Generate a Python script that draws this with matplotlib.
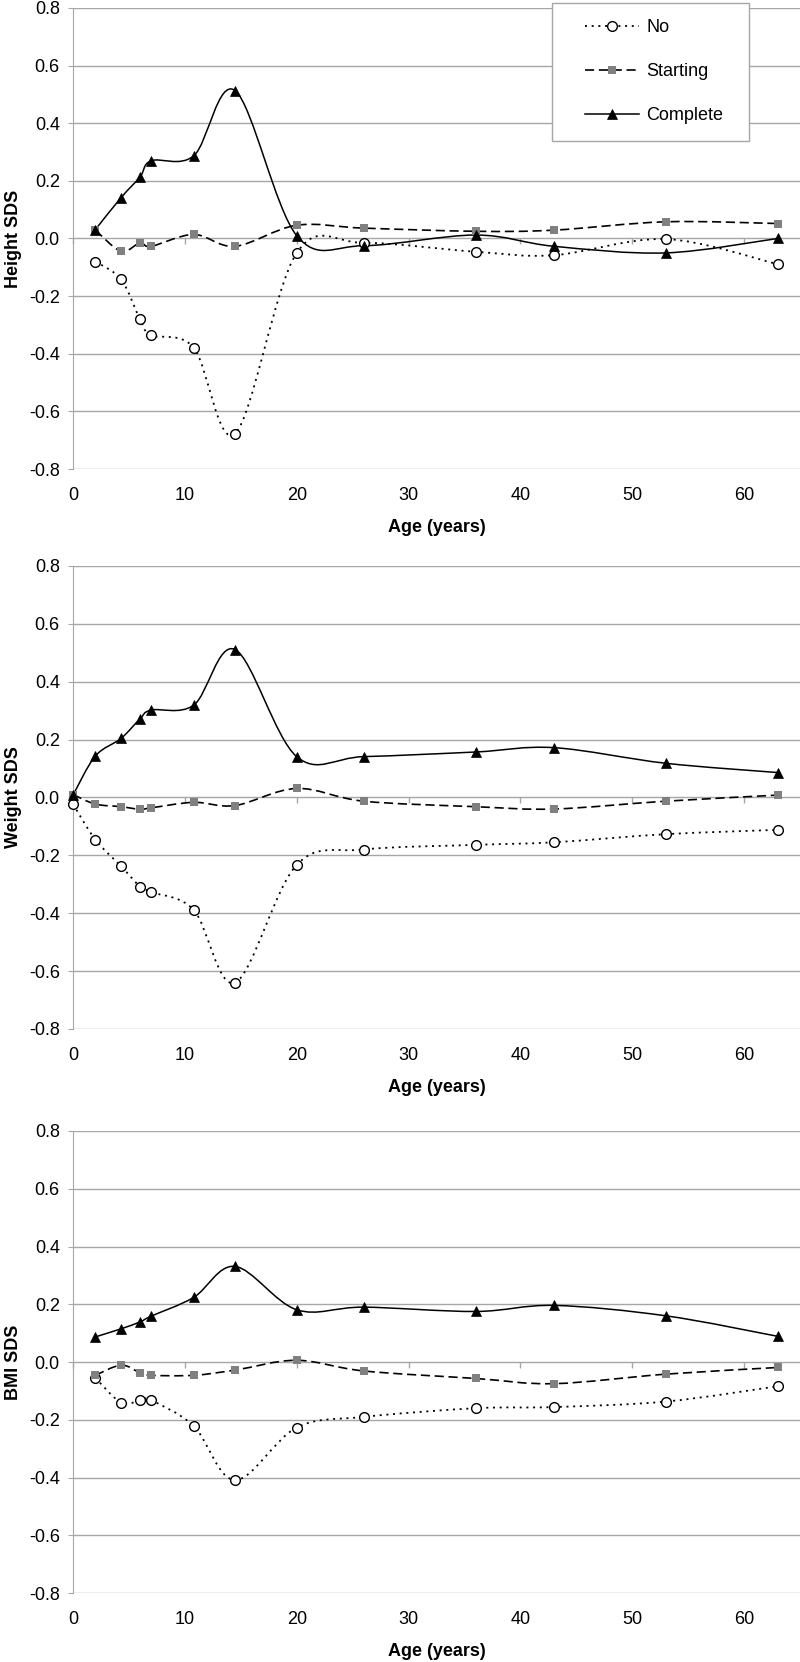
import numpy as np
import matplotlib
matplotlib.use("Agg")
import matplotlib.pyplot as plt
from matplotlib.path import Path
from matplotlib.patches import PathPatch, Rectangle
from matplotlib.lines import Line2D

plt.rcParams['font.family'] = ['Liberation Sans', 'DejaVu Sans']
plt.rcParams['axes.unicode_minus'] = False

# ages of the follow-up visits
ages = [2, 4.3, 6, 7, 10.8, 14.5, 20, 26, 36, 43, 53, 63]
ages_weight = [0, 2, 4.3, 6, 7, 10.8, 14.5, 20, 26, 36, 43, 53, 63]

height_no = [-0.080, -0.142, -0.281, -0.335, -0.379, -0.677, -0.050, -0.015, -0.046, -0.058, -0.002, -0.089]
height_starting = [0.029, -0.044, -0.015, -0.027, 0.014, -0.027, 0.046, 0.036, 0.025, 0.029, 0.058, 0.052]
height_complete = [0.031, 0.142, 0.214, 0.270, 0.287, 0.513, 0.010, -0.025, 0.012, -0.027, -0.050, 0.000]

weight_no = [-0.023, -0.146, -0.238, -0.308, -0.327, -0.389, -0.640, -0.233, -0.180, -0.164, -0.155, -0.127, -0.112]
weight_starting = [0.010, -0.023, -0.032, -0.041, -0.036, -0.017, -0.028, 0.031, -0.013, -0.032, -0.040, -0.013, 0.008]
weight_complete = [0.008, 0.143, 0.204, 0.272, 0.302, 0.319, 0.511, 0.141, 0.141, 0.157, 0.172, 0.118, 0.086]

bmi_no = [-0.055, -0.141, -0.133, -0.133, -0.222, -0.409, -0.227, -0.190, -0.160, -0.156, -0.137, -0.084]
bmi_starting = [-0.046, -0.011, -0.037, -0.046, -0.046, -0.028, 0.006, -0.031, -0.057, -0.075, -0.042, -0.019]
bmi_complete = [0.087, 0.115, 0.139, 0.159, 0.224, 0.331, 0.181, 0.190, 0.175, 0.196, 0.160, 0.089]

y_ticks = [-0.8, -0.6, -0.4, -0.2, 0.0, 0.2, 0.4, 0.6, 0.8]
x_ticks = [0, 10, 20, 30, 40, 50, 60]
series_names = ['No', 'Starting', 'Complete']

grey = '#a6a6a6'
fs = 13
styles = [
    dict(ls=(0, (1.1, 2.6)), lw=1.3, marker='o', ms=7, mfc='white', mec='black', mew=1.0),
    dict(ls=(0, (5.5, 2.8)), lw=1.2, marker='s', ms=5.5, mfc='#808080', mec='#808080', mew=0),
    dict(ls='-', lw=1.1, marker='^', ms=7, mfc='black', mec='black', mew=0.5),
]


def smooth_path(x, y):
    # excel style smoothed line: bezier segments through the points
    pts = np.column_stack([x, y]).astype(float)
    n = len(pts)
    verts = [pts[0]]
    codes = [Path.MOVETO]
    for i in range(n - 1):
        p0 = pts[i - 1] if i > 0 else pts[i]
        p1 = pts[i]
        p2 = pts[i + 1]
        p3 = pts[i + 2] if i + 2 < n else pts[i + 1]
        verts += [p1 + (p2 - p0) / 6, p2 - (p3 - p1) / 6, p2]
        codes += [Path.CURVE4] * 3
    return Path(verts, codes)


fig = plt.figure(figsize=(8, 16.62), dpi=100)
rects = [
    [0.09125, 0.7178, 0.90875, 0.2774],
    [0.09125, 0.3809, 0.90875, 0.2786],
    [0.09125, 0.0415, 0.90875, 0.2780],
]
panels = [
    ('Height SDS', ages, [height_no, height_starting, height_complete]),
    ('Weight SDS', ages_weight, [weight_no, weight_starting, weight_complete]),
    ('BMI SDS', ages, [bmi_no, bmi_starting, bmi_complete]),
]

for rect, (ylab, xs, series) in zip(rects, panels):
    ax = fig.add_axes(rect)
    ax.set_xlim(0, 65)
    ax.set_ylim(-0.8, 0.8)
    ax.set_yticks(y_ticks)
    ax.set_yticklabels(['%.1f' % v for v in y_ticks])
    ax.set_xticks(x_ticks)
    ax.yaxis.grid(True, color=grey, lw=1.0)
    ax.set_axisbelow(True)
    for s in ['top', 'right', 'bottom']:
        ax.spines[s].set_visible(False)
    ax.spines['left'].set_color(grey)
    ax.tick_params(axis='y', direction='out', length=3.5, color=grey, pad=6, labelsize=fs)
    ax.tick_params(axis='x', length=0, pad=13, labelsize=fs)
    # small tick marks on the zero line
    ax.plot(x_ticks, [0] * len(x_ticks), ls='none', marker=3, ms=4, mew=1.0,
            color=grey, zorder=1.5, clip_on=False)

    for vals, st in zip(series, styles):
        patch = PathPatch(smooth_path(xs, vals), fill=False, edgecolor='black',
                          lw=st['lw'], ls=st['ls'], zorder=2)
        ax.add_patch(patch)
    for vals, st in zip(series, styles):
        ax.plot(xs, vals, ls='none', marker=st['marker'], ms=st['ms'], mfc=st['mfc'],
                mec=st['mec'], mew=st['mew'], zorder=3, clip_on=False)

    ax.set_ylabel(ylab, fontsize=fs, fontweight='bold', labelpad=5)
    ax.set_xlabel('Age (years)', fontsize=fs, fontweight='bold', labelpad=11)

    if ylab == 'Height SDS':
        # legend box drawn separately so it can be wider than tall, like excel
        box = Rectangle((552 / 800, 1 - 141 / 1662), 197 / 800, 138 / 1662,
                        transform=fig.transFigure, facecolor='white',
                        edgecolor=grey, lw=1.0, zorder=4, clip_on=False)
        ax.add_patch(box)
        handles = [Line2D([], [], color='black', linestyle=st['ls'], lw=st['lw'],
                          marker=st['marker'], ms=st['ms'], mfc=st['mfc'],
                          mec=st['mec'], mew=st['mew']) for st in styles]
        leg = ax.legend(handles, series_names, loc='upper left',
                        bbox_to_anchor=(585 / 800, 1 - 19 / 1662),
                        bbox_transform=fig.transFigure, borderaxespad=0,
                        borderpad=0, fontsize=fs, numpoints=1, handlelength=3.0,
                        handletextpad=0.4, labelspacing=1.5, frameon=False)
        leg.set_zorder(5)

fig.savefig('out.png', dpi=100)
